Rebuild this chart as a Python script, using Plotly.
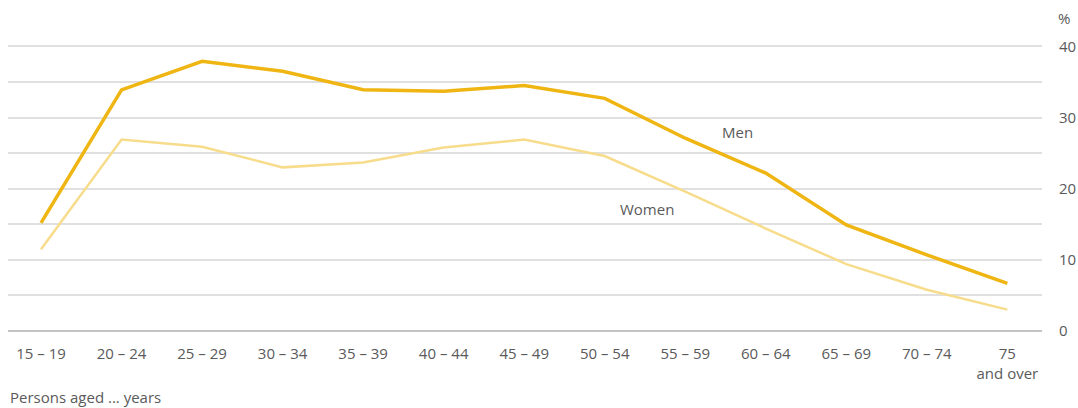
import plotly.graph_objects as go

categories = ["15 – 19", "20 – 24", "25 – 29", "30 – 34", "35 – 39", "40 – 44", "45 – 49",
              "50 – 54", "55 – 59", "60 – 64", "65 – 69", "70 – 74", "75<br>and over"]
men = [15.2, 33.9, 37.9, 36.5, 33.9, 33.7, 34.5, 32.7, 27.1, 22.2, 14.9, 10.7, 6.7]
women = [11.5, 26.9, 25.9, 23.0, 23.7, 25.8, 26.9, 24.6, 19.6, 14.4, 9.4, 5.8, 3.0]
y_tickvals = [0, 5, 10, 15, 20, 25, 30, 35, 40]
y_ticktext = ["0", "", "10", "", "20", "", "30", "", "40"]

FONT = "Open Sans"
TXT = "#5a5a5a"
x = list(range(len(categories)))

W, H = 1078, 408
l, r, t, b = 8, 36, 45, 77
pw, ph = W - l - r, H - t - b

def px(xp):
    return (xp - l) / pw

def py(yp):
    return (H - b - yp) / ph

fig = go.Figure()
fig.add_trace(go.Scatter(x=x, y=women, mode="lines", name="Women",
                         line=dict(color="#F7DC8C", width=2.5), hoverinfo="y"))
fig.add_trace(go.Scatter(x=x, y=men, mode="lines", name="Men",
                         line=dict(color="#EFB512", width=3.5), hoverinfo="y"))

fnt = dict(family=FONT, size=15, color=TXT)
fig.update_layout(
    width=W, height=H,
    margin=dict(l=l, r=r, t=t, b=b, autoexpand=False),
    paper_bgcolor="white", plot_bgcolor="white",
    showlegend=False,
    font=fnt,
    xaxis=dict(range=[-0.41, 12.43], tickmode="array", tickvals=x, ticktext=categories,
               showgrid=False, zeroline=False, showline=False, automargin=False,
               ticks="outside", ticklen=9, tickcolor="rgba(0,0,0,0)",
               tickfont=fnt),
    yaxis=dict(range=[0, 40.2], side="right", tickmode="array", tickvals=y_tickvals,
               ticktext=y_ticktext, showgrid=True, gridcolor="#e0e0e0", gridwidth=2,
               zeroline=True, zerolinecolor="#c4c4c4", zerolinewidth=2, automargin=False,
               ticks="outside", ticklen=13, tickcolor="rgba(0,0,0,0)",
               tickfont=fnt),
    annotations=[
        dict(text="%", x=px(1064), y=py(18), xref="paper", yref="paper",
             xanchor="center", yanchor="middle", showarrow=False, font=fnt),
        dict(text="Men", x=8.65, y=28.0, xref="x", yref="y", showarrow=False, font=fnt),
        dict(text="Women", x=7.53, y=17.2, xref="x", yref="y", showarrow=False, font=fnt),
        dict(text="Persons aged ... years", x=px(8), y=py(397), xref="paper", yref="paper",
             xanchor="left", yanchor="middle", showarrow=False, font=fnt),
    ],
)

fig.write_html("out.html", config={"displayModeBar": False},
               post_script="document.body.style.margin='0';document.body.style.overflow='hidden';")
